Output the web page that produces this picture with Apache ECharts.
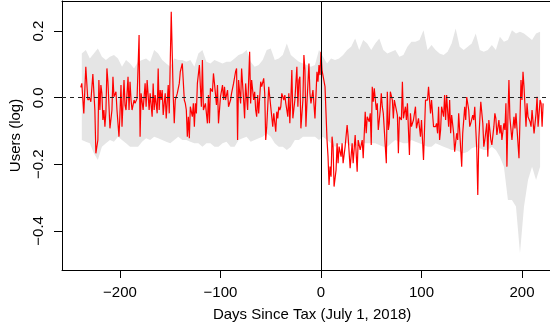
<!DOCTYPE html>
<html><head><meta charset="utf-8">
<script src="https://cdn.jsdelivr.net/npm/echarts@6/dist/echarts.min.js"></script>
<style>html,body{margin:0;padding:0;background:#fff}#c{width:550px;height:328px}</style>
</head><body><div id="c"></div>
<script>
const effectDays = [
  -239,-238,-236,-234,-233,-232,-230,-229,-227,-225,
  -224,-222,-221,-220,-219,-218,-217,-216,-215,-214,
  -213,-212,-211,-210,-208,-207,-206,-204,-203,-201,
  -200,-199,-198,-196,-195,-194,-192,-191,-190,-189,
  -188,-186,-185,-183,-181,-180,-179,-177,-175,-174,
  -173,-171,-170,-168,-167,-166,-165,-163,-162,-161,
  -160,-159,-158,-157,-156,-155,-154,-152,-151,-149,
  -147,-146,-145,-143,-141,-140,-138,-136,-135,-134,
  -133,-132,-131,-130,-128,-127,-126,-125,-124,-123,
  -121,-120,-119,-118,-117,-115,-113,-112,-111,-110,
  -108,-107,-106,-104,-103,-102,-100,-98,-97,-96,
  -95,-93,-92,-90,-89,-87,-85,-84,-83,-82,
  -80,-79,-77,-76,-75,-73,-71,-70,-69,-67,
  -66,-65,-64,-63,-62,-60,-59,-57,-56,-55,
  -54,-52,-51,-49,-48,-47,-45,-44,-43,-42,
  -41,-40,-39,-37,-36,-35,-33,-32,-31,-30,
  -29,-28,-26,-24,-23,-22,-21,-20,-18,-17,
  -16,-15,-14,-12,-11,-10,-8,-6,-4,-3,
  -2,-1,0,1,2,4,5,6,7,8,
  9,10,11,12,13,15,16,17,18,20,
  21,22,24,26,27,29,31,32,34,36,
  37,39,41,42,44,45,46,48,49,50,
  51,52,53,54,55,56,57,59,60,61,
  62,65,66,67,68,69,71,72,73,74,
  76,77,78,80,81,82,84,85,86,88,
  89,90,92,94,95,97,99,100,102,103,
  104,106,107,109,110,112,114,115,116,117,
  118,119,120,122,123,124,125,127,128,129,
  130,132,133,135,136,137,138,140,141,143,
  144,145,147,148,149,151,152,153,155,156,
  157,158,159,161,162,163,165,166,167,169,
  170,172,173,174,175,177,178,179,180,182,
  183,184,185,186,187,188,190,192,193,194,
  195,197,199,200,201,202,204,205,206,208,
  209,210,212,213,214,215,216,218,219,220,
  221
];
// Estimated effect on users (log) at those days
const effectValues = [
  0.031,0.043,-0.047,0.093,0.098,-0.007,-0.002,-0.012,0.071,-0.037,
  -0.167,-0.127,0.053,-0.037,0.038,0.013,-0.067,-0.037,-0.087,-0.042,
  0.088,0.048,0.043,-0.092,-0.037,0.063,0.003,0.018,-0.037,-0.117,
  -0.047,0.038,-0.087,0.053,-0.022,-0.037,0.063,-0.037,0.048,-0.007,
  -0.037,-0.007,-0.017,-0.002,0.188,-0.117,0.013,-0.037,0.043,-0.027,
  0.053,-0.037,0.013,-0.057,0.043,-0.037,0.008,-0.047,0.088,-0.037,
  0.023,-0.007,0.023,-0.052,-0.017,0.013,-0.062,0.038,-0.047,0.258,
  0.003,-0.077,-0.007,0.013,0.043,0.078,0.103,-0.007,-0.017,-0.037,
  -0.117,-0.057,-0.122,-0.027,-0.057,-0.017,-0.087,-0.017,-0.047,0.043,
  0.098,0.033,-0.027,0.113,-0.037,-0.017,-0.077,0.008,-0.077,0.028,
  0.018,0.073,0.043,-0.022,0.038,-0.077,0.003,0.038,-0.007,0.033,
  -0.007,0.023,-0.027,-0.007,0.013,0.043,0.078,0.088,-0.127,0.053,
  -0.017,0.088,-0.007,-0.062,0.043,-0.037,0.138,-0.017,0.053,-0.007,
  0.018,-0.037,-0.057,0.008,-0.047,0.048,0.033,0.058,0.013,-0.127,
  -0.087,0.033,0.028,-0.057,-0.087,-0.047,-0.102,-0.042,-0.062,-0.027,
  -0.037,-0.027,0.013,-0.007,0.008,-0.017,-0.057,0.013,-0.077,-0.007,
  0.083,-0.062,-0.007,0.093,-0.027,0.053,0.063,-0.092,-0.007,0.128,
  0.083,-0.087,-0.017,0.103,0.013,-0.017,0.023,-0.062,0.078,0.048,
  0.098,0.068,0.138,0.083,0.078,0.033,-0.047,-0.127,-0.177,-0.262,
  -0.207,-0.237,-0.117,-0.147,-0.267,-0.217,-0.137,-0.197,-0.147,-0.177,
  -0.137,-0.197,-0.147,-0.082,-0.117,-0.212,-0.137,-0.197,-0.112,-0.222,
  -0.127,-0.157,-0.127,-0.182,-0.042,-0.107,-0.057,-0.072,-0.047,-0.142,
  0.033,-0.012,0.028,0.023,-0.037,-0.017,-0.097,-0.037,0.013,-0.027,
  -0.047,-0.197,0.018,-0.097,-0.077,0.018,-0.007,-0.062,-0.007,-0.012,
  -0.052,-0.167,-0.057,-0.067,0.048,-0.062,-0.027,-0.067,-0.017,-0.172,
  -0.047,-0.087,-0.067,-0.027,-0.092,-0.062,-0.117,-0.067,-0.187,-0.097,
  -0.007,-0.007,0.033,-0.047,-0.007,-0.087,-0.087,-0.077,-0.107,-0.027,
  -0.127,-0.097,-0.027,-0.057,0.008,-0.067,0.008,-0.087,-0.007,-0.107,
  -0.052,-0.107,-0.162,-0.107,-0.127,-0.047,-0.052,-0.207,-0.107,-0.027,
  -0.067,0.002,-0.037,-0.087,-0.077,-0.052,-0.067,-0.027,-0.157,-0.292,
  -0.127,-0.067,-0.012,-0.077,-0.147,-0.127,-0.077,-0.177,-0.067,-0.127,
  -0.142,-0.087,-0.047,-0.062,-0.112,-0.067,-0.107,-0.082,-0.127,-0.077,
  -0.097,-0.017,-0.207,-0.057,0.053,-0.062,-0.127,-0.057,-0.092,-0.047,
  -0.052,-0.182,0.053,-0.007,0.078,0.033,-0.087,-0.017,-0.057,-0.072,
  -0.087,-0.037,-0.107,-0.107,-0.047,0.003,-0.087,-0.007,-0.017,-0.087,
  -0.017
];
// Grey interval band (every 4 days), day -238 .. 218
const bandStartDay = -238;
const bandStep = 4;
const bandUpper = [
  0.133,0.143,0.118,0.133,0.148,0.123,0.113,0.123,0.128,0.118,
  0.093,0.113,0.103,0.088,0.108,0.113,0.118,0.108,0.143,0.133,
  0.113,0.103,0.093,0.118,0.113,0.113,0.108,0.113,0.093,0.133,
  0.143,0.108,0.103,0.113,0.108,0.103,0.108,0.108,0.118,0.128,
  0.133,0.143,0.108,0.093,0.098,0.113,0.143,0.148,0.113,0.118,
  0.128,0.163,0.128,0.118,0.108,0.103,0.098,0.093,0.098,0.143,
  0.123,0.103,0.118,0.113,0.118,0.128,0.143,0.153,0.178,0.143,
  0.173,0.163,0.143,0.163,0.178,0.143,0.133,0.138,0.143,0.123,
  0.128,0.153,0.168,0.168,0.173,0.203,0.143,0.158,0.143,0.133,
  0.128,0.138,0.163,0.208,0.153,0.143,0.153,0.163,0.193,0.143,
  0.138,0.143,0.158,0.143,0.183,0.168,0.173,0.203,0.193,0.198,
  0.193,0.183,0.173,0.193,0.198
];
const bandLower = [
  -0.127,-0.132,-0.137,-0.167,-0.187,-0.147,-0.137,-0.127,-0.132,-0.117,
  -0.127,-0.137,-0.147,-0.147,-0.147,-0.132,-0.122,-0.127,-0.117,-0.122,
  -0.127,-0.132,-0.137,-0.127,-0.117,-0.127,-0.127,-0.132,-0.137,-0.137,
  -0.147,-0.137,-0.137,-0.147,-0.147,-0.137,-0.132,-0.147,-0.147,-0.127,
  -0.122,-0.117,-0.132,-0.127,-0.122,-0.117,-0.107,-0.117,-0.137,-0.147,
  -0.147,-0.157,-0.147,-0.127,-0.127,-0.117,-0.117,-0.117,-0.117,-0.127,
  -0.117,-0.127,-0.137,-0.147,-0.142,-0.137,-0.137,-0.147,-0.147,-0.142,
  -0.137,-0.137,-0.137,-0.137,-0.142,-0.147,-0.147,-0.137,-0.127,-0.132,
  -0.137,-0.137,-0.127,-0.132,-0.137,-0.142,-0.147,-0.147,-0.137,-0.142,
  -0.147,-0.152,-0.157,-0.157,-0.162,-0.167,-0.162,-0.152,-0.147,-0.152,
  -0.157,-0.157,-0.147,-0.157,-0.177,-0.207,-0.307,-0.307,-0.327,-0.467,
  -0.327,-0.247,-0.207,-0.247,-0.207
];
const xTicks = [-200, -100, 0, 100, 200];
const yTicks = [-0.4, -0.2, 0.0, 0.2];
const xTitle = 'Days Since Tax (July 1, 2018)';
const yTitle = 'Users (log)';

const effectData = effectDays.map((d, i) => [d, effectValues[i]]);
const bandData = bandUpper.map((u, i) => [bandStartDay + i * bandStep, bandLower[i], u]);

const FONT = 'Liberation Sans, Arial, Helvetica, sans-serif';
const minus = s => String(s).replace('-', '\u2212');

const chart = echarts.init(document.getElementById('c'), null, {renderer: 'canvas'});
chart.setOption({
  animation: false,
  backgroundColor: '#fff',
  grid: {left: 62, right: -12.2, top: 1, bottom: 58, containLabel: false, outerBoundsMode: 'none'},
  xAxis: [{
    type: 'value', min: -257.7, max: 240, position: 'bottom',
    axisLine: {show: true, onZero: false, lineStyle: {color: '#000', width: 1}},
    axisTick: {show: true, length: 8, customValues: xTicks, lineStyle: {color: '#000', width: 1}},
    axisLabel: {customValues: xTicks, color: '#000', fontSize: 15, fontFamily: FONT, margin: 15,
      formatter: v => minus(v)},
    splitLine: {show: false},
    name: xTitle, nameLocation: 'middle', nameGap: 37,
    nameTextStyle: {color: '#000', fontSize: 15, fontFamily: FONT}
  }, {
    type: 'value', min: -257.7, max: 240, position: 'top',
    axisLine: {show: true, onZero: false, lineStyle: {color: '#000', width: 1}},
    axisTick: {show: false}, axisLabel: {show: false}, splitLine: {show: false}
  }],
  yAxis: {
    type: 'value', min: -0.5175, max: 0.2905,
    axisLine: {show: true, onZero: false, lineStyle: {color: '#000', width: 1}},
    axisTick: {show: true, length: 8, customValues: yTicks, lineStyle: {color: '#000', width: 1}},
    axisLabel: {customValues: yTicks, rotate: 90, color: '#000', fontSize: 15, fontFamily: FONT, margin: 16,
      formatter: v => (v < 0 ? '\u2212' : '') + Math.abs(v).toFixed(1)},
    splitLine: {show: false},
    name: yTitle, nameLocation: 'middle', nameGap: 37, nameRotate: 90,
    nameTextStyle: {color: '#000', fontSize: 15, fontFamily: FONT}
  },
  series: [{
    type: 'custom', name: 'band', z: 1, clip: true,
    data: [[bandData[0][0], 0]],
    encode: {x: 0, y: 1},
    renderItem: function (params, api) {
      const pts = [];
      for (let i = 0; i < bandData.length; i++) pts.push(api.coord([bandData[i][0], bandData[i][2]]));
      for (let i = bandData.length - 1; i >= 0; i--) pts.push(api.coord([bandData[i][0], bandData[i][1]]));
      return {type: 'polygon', shape: {points: pts}, style: {fill: '#e5e5e5', stroke: null}};
    }
  }, {
    type: 'line', name: 'ref', z: 2, data: [], silent: true,
    markLine: {
      silent: true, symbol: 'none', animation: false,
      label: {show: false},
      lineStyle: {color: '#222', width: 1, type: [4, 4]},
      data: [{yAxis: 0}, {xAxis: 0, lineStyle: {color: '#000', type: 'solid', width: 1}}]
    }
  }, {
    type: 'line', name: 'effect', z: 3, data: effectData,
    showSymbol: false, symbol: 'none', smooth: false,
    lineStyle: {color: '#ff0000', width: 1.2}
  }]
});
</script></body></html>
